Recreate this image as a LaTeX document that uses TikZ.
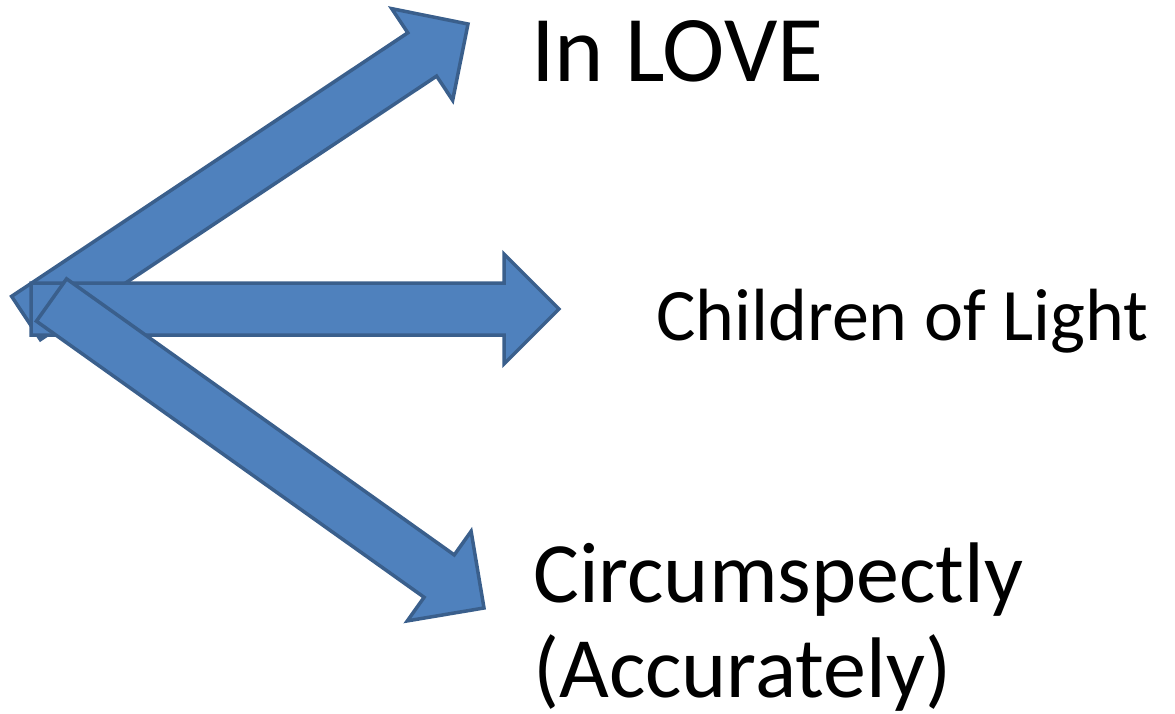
\documentclass[tikz,border=0pt]{standalone}
\usepackage{fontspec}
\setmainfont{Carlito}
\usetikzlibrary{calc}

\definecolor{arrowfill}{HTML}{4F81BD}
\definecolor{arrowline}{HTML}{3A5F8C}

% block arrow from tail centre #1 to tip #2
\newcommand{\blockarrow}[2]{%
  \coordinate (neck) at ($(#2)!55pt!(#1)$);
  \draw[bigarrow] ($(#1)!26pt!90:(#2)$) -- ($(neck)!26pt!-90:(#1)$)
    -- ($(neck)!55pt!-90:(#1)$) -- (#2) -- ($(neck)!55pt!90:(#1)$)
    -- ($(neck)!26pt!90:(#1)$) -- ($(#1)!26pt!-90:(#2)$) -- cycle;
}

\begin{document}
\begin{tikzpicture}[x=1pt, y=-1pt,
    bigarrow/.style = {fill=arrowfill, draw=arrowline, line width=3.5pt, line join=miter},
    label/.style = {inner sep=0pt, anchor=base west}]
  \useasboundingbox (0,0) rectangle (1175,714);

  \coordinate (tailup) at (26,318);
  \coordinate (tipup) at (468,24);
  \coordinate (tailmid) at (31,309);
  \coordinate (tipmid) at (559,309);
  \coordinate (taildown) at (51.5,300);
  \coordinate (tipdown) at (484,608);

  \blockarrow{tailup}{tipup}
  \blockarrow{tailmid}{tipmid}
  \blockarrow{taildown}{tipdown}

  \node[label, font=\fontsize{94}{110}\selectfont] (love) at (531,82) {In LOVE};
  \node[label, font=\fontsize{74}{89}\selectfont] (light) at (656,340) {Children of Light};
  \node[label, font=\fontsize{86}{95}\selectfont, align=left] (care) at (533,697)
    {Circumspectly\\(Accurately)};
\end{tikzpicture}
\end{document}
